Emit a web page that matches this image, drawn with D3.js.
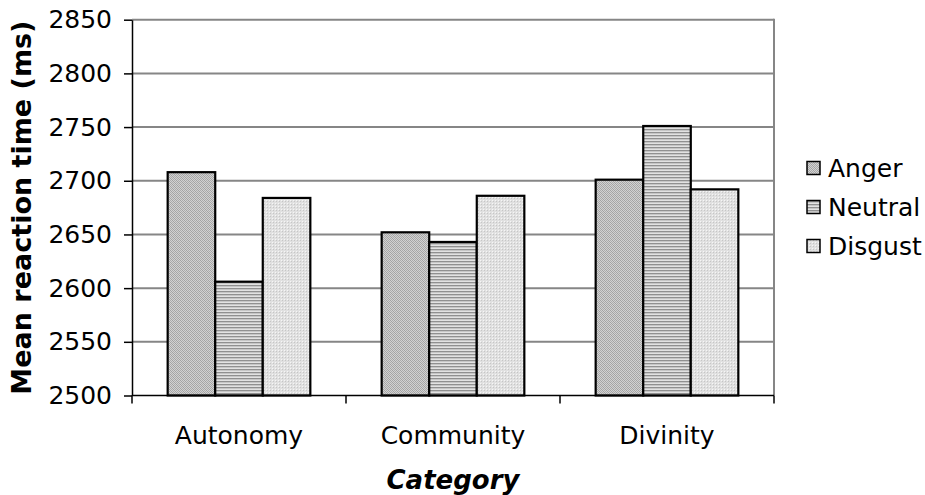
<!DOCTYPE html>
<html>
<head>
<meta charset="utf-8">
<script src="https://cdn.jsdelivr.net/npm/d3@7"></script>
<style>
  html, body { margin: 0; padding: 0; background: #fff; }
  svg { display: block; font-family: "DejaVu Sans", Verdana, sans-serif; }
</style>
</head>
<body>
<svg id="chart" width="925" height="495"></svg>
<script>
// Mean reaction time by moral category and emotion
const categories = ["Autonomy", "Community", "Divinity"];
const series = ["Anger", "Neutral", "Disgust"];
const anger   = [2708, 2652, 2701];
const neutral = [2606, 2643, 2751];
const disgust = [2684, 2686, 2692];
const yTicks = [2500, 2550, 2600, 2650, 2700, 2750, 2800, 2850];
const yTitle = "Mean reaction time (ms)";
const xTitle = "Category";

const values = { Anger: anger, Neutral: neutral, Disgust: disgust };

const svg = d3.select("#chart");
const plot = { left: 132, right: 774, top: 19.7, bottom: 395.5 };

// Fill textures for each series
const defs = svg.append("defs");
function pattern(id, size, cells, base) {
  const p = defs.append("pattern").attr("id", id)
    .attr("patternUnits", "userSpaceOnUse")
    .attr("width", size).attr("height", size);
  p.append("rect").attr("width", size).attr("height", size).attr("fill", base);
  cells.forEach(c => p.append("rect")
    .attr("x", c[0]).attr("y", c[1]).attr("width", c[2]).attr("height", c[3])
    .attr("fill", c[4]));
}
pattern("fill-anger", 4, [
  [0, 0, 1, 1, "#a2a2a2"], [2, 0, 1, 1, "#acacac"],
  [1, 1, 1, 1, "#a2a2a2"], [3, 1, 1, 1, "#acacac"],
  [0, 2, 1, 1, "#acacac"], [2, 2, 1, 1, "#a2a2a2"],
  [1, 3, 1, 1, "#acacac"], [3, 3, 1, 1, "#a2a2a2"]
], "#d2d2d2");
pattern("fill-neutral", 3, [
  [0, 0, 3, 1, "#909090"], [0, 1, 3, 1, "#c6c6c6"]
], "#e2e2e2");
pattern("fill-disgust", 3, [
  [0, 0, 1, 1, "#c6c6c6"], [2, 2, 1, 1, "#f6f6f6"]
], "#e0e0e0");
const fills = { Anger: "url(#fill-anger)", Neutral: "url(#fill-neutral)", Disgust: "url(#fill-disgust)" };

const x0 = d3.scaleBand().domain(categories).range([plot.left, plot.right]);
const x1 = d3.scaleBand().domain(series).range([0, x0.bandwidth()])
  .paddingInner(0).paddingOuter(0.75);
const y = d3.scaleLinear().domain([yTicks[0], yTicks[yTicks.length - 1]])
  .range([plot.bottom, plot.top]);

// Gridlines
svg.append("g").selectAll("line").data(yTicks.slice(1)).join("line")
  .attr("x1", plot.left).attr("x2", plot.right)
  .attr("y1", d => y(d)).attr("y2", d => y(d))
  .attr("stroke", "#868686").attr("stroke-width", 2);

// Plot frame (right side)
svg.append("line")
  .attr("x1", plot.right).attr("x2", plot.right)
  .attr("y1", plot.top - 1).attr("y2", plot.bottom)
  .attr("stroke", "#868686").attr("stroke-width", 2);

// Bars
const groups = svg.append("g").selectAll("g").data(categories).join("g")
  .attr("transform", d => `translate(${x0(d)},0)`);
groups.selectAll("rect")
  .data((c, i) => series.map(s => ({ s, v: values[s][i] })))
  .join("rect")
  .attr("x", d => x1(d.s))
  .attr("width", x1.bandwidth())
  .attr("y", d => y(d.v))
  .attr("height", d => y(yTicks[0]) - y(d.v))
  .attr("fill", d => fills[d.s])
  .attr("stroke", "#000").attr("stroke-width", 2.2);

// Y axis
const yAxis = svg.append("g").attr("transform", `translate(${plot.left},0)`)
  .call(d3.axisLeft(y).tickValues(yTicks).tickFormat(d3.format("d"))
    .tickSize(8).tickSizeOuter(0).tickPadding(12));
yAxis.select(".domain").attr("stroke", "#000").attr("stroke-width", 1.5);
yAxis.selectAll(".tick line").attr("stroke", "#000").attr("stroke-width", 1.5);
yAxis.selectAll(".tick text").attr("font-size", 25).attr("fill", "#000")
  .attr("font-family", "DejaVu Sans, sans-serif");

// X axis: ticks sit on the category boundaries
const xAxis = svg.append("g").attr("transform", `translate(0,${plot.bottom})`);
xAxis.append("line").attr("x1", plot.left).attr("x2", plot.right)
  .attr("stroke", "#000").attr("stroke-width", 1.5);
const bounds = categories.map(c => x0(c)).concat([plot.right]);
xAxis.selectAll("line.tick").data(bounds).join("line").attr("class", "tick")
  .attr("x1", d => d).attr("x2", d => d).attr("y1", 0).attr("y2", 8)
  .attr("stroke", "#000").attr("stroke-width", 1.5);
xAxis.selectAll("text").data(categories).join("text")
  .attr("x", d => x0(d) + x0.bandwidth() / 2).attr("y", 48)
  .attr("text-anchor", "middle").attr("font-size", 25).attr("fill", "#000")
  .text(d => d);

// Axis titles
svg.append("text")
  .attr("transform", `translate(31,${(plot.top + plot.bottom) / 2}) rotate(-90)`)
  .attr("text-anchor", "middle").attr("font-size", 27).attr("font-weight", "bold")
  .text(yTitle);
svg.append("text")
  .attr("x", (plot.left + plot.right) / 2).attr("y", 489)
  .attr("text-anchor", "middle").attr("font-size", 26).attr("font-weight", "bold")
  .attr("font-style", "italic")
  .text(xTitle);

// Legend
const legend = svg.append("g").selectAll("g").data(series).join("g")
  .attr("transform", (d, i) => `translate(807,${168 + i * 39})`);
legend.append("rect").attr("x", 0).attr("y", -6.5).attr("width", 13).attr("height", 13)
  .attr("fill", d => fills[d]).attr("stroke", "#000").attr("stroke-width", 1.5);
legend.append("text").attr("x", 21).attr("y", 0).attr("dy", "0.36em")
  .attr("font-size", 25).attr("fill", "#000").text(d => d);
</script>
</body>
</html>
